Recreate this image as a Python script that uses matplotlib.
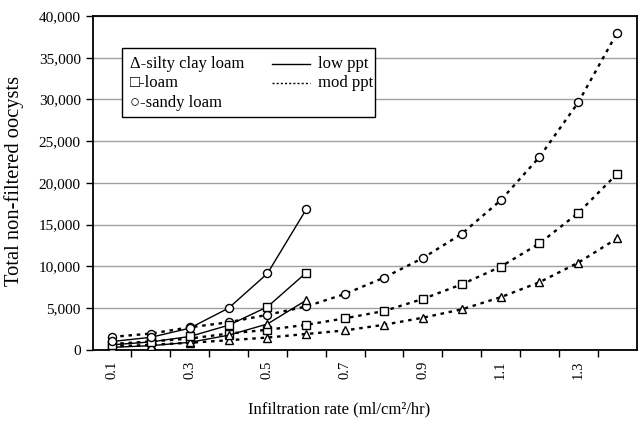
import matplotlib
matplotlib.use("Agg")
import matplotlib.pyplot as plt
from matplotlib.patches import Rectangle
from matplotlib.lines import Line2D
import numpy as np

plt.rcParams['font.family'] = ['Liberation Serif', 'DejaVu Sans']

# infiltration rate (ml/cm2/hr)
rate_low = [0.1, 0.2, 0.3, 0.4, 0.5, 0.6]
rate_mod = [0.1, 0.2, 0.3, 0.4, 0.5, 0.6, 0.7, 0.8, 0.9, 1.0, 1.1, 1.2, 1.3, 1.4]

# low ppt (solid)
sandy_low = [1000, 1500, 2600, 5000, 9150, 16850]
loam_low = [600, 950, 1600, 2950, 5150, 9250]
silty_low = [300, 500, 900, 1750, 3100, 5950]

# mod ppt (dotted)
sandy_mod = [1550, 1950, 2700, 3300, 4200, 5200, 6700, 8650, 11000, 13900, 17900, 23100, 29650, 38000]
loam_mod = [700, 1000, 1350, 1950, 2400, 3000, 3780, 4650, 6100, 7850, 9950, 12750, 16400, 21100]
silty_mod = [400, 600, 850, 1150, 1470, 1900, 2330, 3000, 3850, 4850, 6300, 8100, 10450, 13350]

xticks = [0.1, 0.3, 0.5, 0.7, 0.9, 1.1, 1.3]
yticks = [0, 5000, 10000, 15000, 20000, 25000, 30000, 35000, 40000]

fig = plt.figure(figsize=(6.43, 4.22), dpi=100)
ax = fig.add_axes([0.144, 0.171, 0.846, 0.791])

mk = dict(color='black', markerfacecolor='white', markeredgecolor='black',
          markersize=5.8, markeredgewidth=1.0, zorder=3)
dots = (0, (1.5, 2.0))

ax.plot(rate_mod, silty_mod, marker='^', linestyle=dots, lw=1.7, **mk)
ax.plot(rate_mod, loam_mod, marker='s', linestyle=dots, lw=1.7, **mk)
ax.plot(rate_mod, sandy_mod, marker='o', linestyle=dots, lw=1.7, **mk)
ax.plot(rate_low, silty_low, marker='^', linestyle='-', lw=1.0, **mk)
ax.plot(rate_low, loam_low, marker='s', linestyle='-', lw=1.0, **mk)
ax.plot(rate_low, sandy_low, marker='o', linestyle='-', lw=1.0, **mk)

ax.set_xlim(0.05, 1.45)
ax.set_ylim(0, 40000)
ax.set_yticks(yticks)
ax.set_yticklabels([f"{v:,}" for v in yticks], fontsize=11)
ax.yaxis.grid(True, color='#a0a0a0', lw=1.0)
ax.set_axisbelow(True)

ax.set_xticks(xticks)
ax.set_xticklabels([f"{v:.1f}" for v in xticks], rotation=90, fontsize=10.5)
ax.set_xticks(np.arange(0.15, 1.45, 0.1), minor=True)
ax.tick_params(axis='x', which='major', length=0, pad=8)
ax.tick_params(axis='x', which='minor', length=5, direction='out', width=1)
ax.tick_params(axis='y', length=5, direction='out', width=1)

for s in ax.spines.values():
    s.set_linewidth(1.3)

ax.set_ylabel("Total non-filtered oocysts", fontsize=14.8)
ax.yaxis.set_label_coords(-0.127, 0.505)
ax.set_xlabel("Infiltration rate (ml/cm²/hr)", fontsize=12)
ax.xaxis.set_label_coords(0.453, -0.155)

# legend box
ax.add_patch(Rectangle((0.054, 0.698), 0.465, 0.206, transform=ax.transAxes,
                       facecolor='white', edgecolor='black', lw=1.0, zorder=5))
ax.text(0.068, 0.855, "Δ-silty clay loam", transform=ax.transAxes, fontsize=12, va='center', zorder=6)
ax.text(0.068, 0.800, "□-loam", transform=ax.transAxes, fontsize=12, va='center', zorder=6)
ax.text(0.068, 0.740, "○-sandy loam", transform=ax.transAxes, fontsize=12, va='center', zorder=6)
ax.add_line(Line2D([0.330, 0.400], [0.855, 0.855], transform=ax.transAxes, color='black', lw=1.0, zorder=6))
ax.add_line(Line2D([0.330, 0.400], [0.800, 0.800], transform=ax.transAxes, color='black', lw=1.0,
                   linestyle=(0, (1.5, 1.5)), zorder=6))
ax.text(0.414, 0.855, "low ppt", transform=ax.transAxes, fontsize=12, va='center', zorder=6)
ax.text(0.414, 0.800, "mod ppt", transform=ax.transAxes, fontsize=12, va='center', zorder=6)

fig.savefig("out.png", dpi=100)
